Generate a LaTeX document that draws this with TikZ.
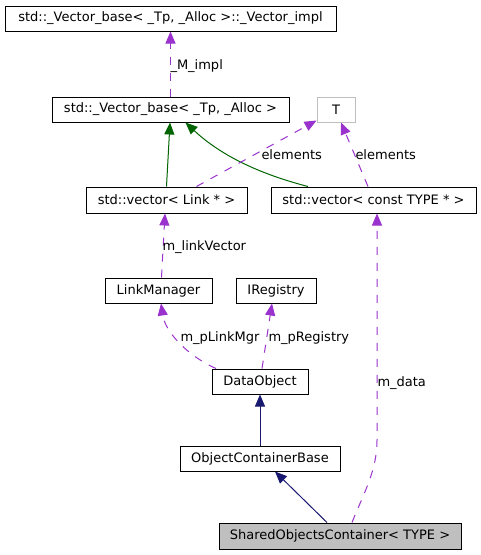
\documentclass[tikz,border=0pt]{standalone}
\usepackage{fontspec}
\setmainfont{DejaVu Sans}
\usepackage{tikz}
\usetikzlibrary{arrows.meta}
\definecolor{memberpurple}{HTML}{9A32CD}
\definecolor{inhgreen}{HTML}{006400}
\definecolor{inhnavy}{HTML}{191970}
\definecolor{boxgray}{HTML}{BFBFBF}
\begin{document}
\begin{tikzpicture}[>={Triangle[length=12pt,width=10pt]},x=1pt,y=-1pt,line width=1pt,
	font=\fontsize{13}{15}\selectfont,
	box/.style={draw,minimum height=25pt,inner sep=0pt},
	member/.style={->,memberpurple,dash pattern=on 8pt off 8pt},
	greenedge/.style={->,inhgreen},
	navyedge/.style={->,inhnavy},
	lbl/.style={anchor=base west,inner sep=0pt}]
			\useasboundingbox (0,0) rectangle (481,555);
			\node[box,minimum width=331pt] (impl) at (170.5,18.5) {std::\_Vector\_base< \_Tp, \_Alloc >::\_Vector\_impl};
			\node[box,minimum width=237pt] (vbase) at (170.5,109.5) {std::\_Vector\_base< \_Tp, \_Alloc >};
			\node[box,draw=boxgray,minimum width=38pt] (T) at (336,109.5) {T};
			\node[box,minimum width=161pt,minimum height=26pt] (vlink) at (166.5,200) {std::vector< Link * >};
			\node[box,minimum width=205pt,minimum height=26pt] (vconst) at (373.5,200) {std::vector< const TYPE * >};
			\node[box,minimum width=107pt] (lmgr) at (158.5,290.5) {LinkManager};
			\node[box,minimum width=80pt] (ireg) at (276,290.5) {IRegistry};
			\node[box,minimum width=96pt] (dobj) at (260,381.5) {DataObject};
			\node[box,minimum width=160pt] (ocb) at (260,458.5) {ObjectContainerBase};
			\node[box,fill=boxgray,minimum width=242pt,minimum height=26pt] (soc) at (340,536) {SharedObjectsContainer< TYPE >};
			
			\draw[member] (vbase.north) -- (impl.south);
			\draw[greenedge] (vlink.north) -- ([xshift=-0.5pt]vbase.south);
			\draw[greenedge] ([xshift=-65.5pt]vconst.north) .. controls +(-58,-15) and +(30,28) .. ([xshift=15pt]vbase.south);
			\draw[member] ([xshift=30pt]vlink.north) -- ([yshift=2pt]T.south west);
			\draw[member] ([xshift=-5.5pt]vconst.north) -- ([xshift=5pt]T.south);
			\draw[member] ([xshift=3pt]lmgr.north) -- ([xshift=-1.5pt]vlink.south);
			\draw[member] ([xshift=12pt]soc.north) .. controls +(12,-30) and +(0,30) .. ([xshift=3.5pt,yshift=-227pt]vconst.south) -- ([xshift=3.5pt]vconst.south);
			\draw[member] ([xshift=-44pt]dobj.north) .. controls +(-31,-14) and +(4,27) .. ([xshift=2.5pt]lmgr.south);
			\draw[member] ([xshift=2pt]dobj.north) -- ([xshift=-4pt]ireg.south);
			\draw[navyedge] (ocb.north) -- (dobj.south);
			\draw[navyedge] ([xshift=-13pt]soc.north) -- ([xshift=15pt]ocb.south);
			
			\node[lbl] (limpl) at (170,69) {\_M\_impl};
			\node[lbl] (lelem) at (261,159) {elements};
			\node[lbl] (lelemc) at (355,159) {elements};
			\node[lbl] (llink) at (162,250) {m\_linkVector};
			\node[lbl] (lmgrl) at (180,341) {m\_pLinkMgr};
			\node[lbl] (lreg) at (268,341) {m\_pRegistry};
			\node[lbl] (ldata) at (377,386) {m\_data};
	\end{tikzpicture}
\end{document}
